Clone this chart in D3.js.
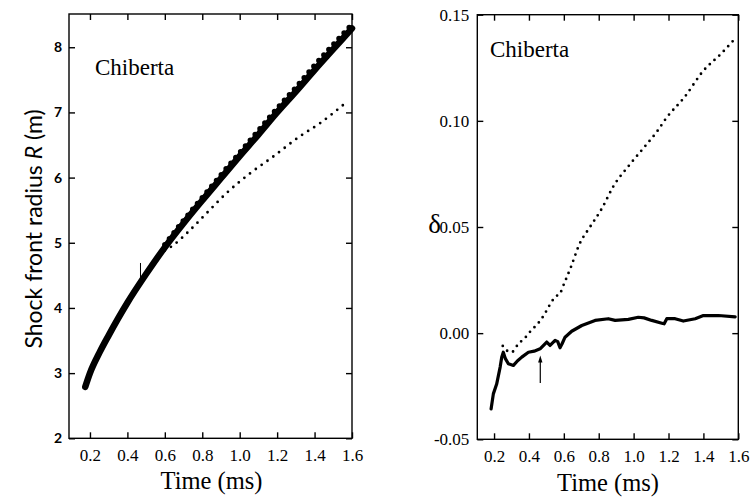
<!DOCTYPE html>
<html>
<head>
<meta charset="utf-8">
<script src="https://cdn.jsdelivr.net/npm/d3@7/dist/d3.min.js"></script>
<style>
  html, body { margin: 0; padding: 0; background: #fff; }
  svg { display: block; }
</style>
</head>
<body>
<svg id="chart" width="750" height="499"></svg>
<script>
// ---------------- DATA ----------------
const xTicks = [0.2, 0.4, 0.6, 0.8, 1.0, 1.2, 1.4, 1.6];
const xTickLabels = ["0.2", "0.4", "0.6", "0.8", "1.0", "1.2", "1.4", "1.6"];
const leftYTicks = [2, 3, 4, 5, 6, 7, 8];
const rightYTicks = [-0.05, 0.00, 0.05, 0.10, 0.15];
const rightYTickLabels = ["-0.05", "0.00", "0.05", "0.10", "0.15"];

// Left panel: shock front radius R (m) vs time (ms)
const radiusMeasuredT = [0.175, 0.2, 0.25, 0.3, 0.4, 0.5, 0.6, 0.7, 0.8, 0.9, 1.0, 1.1, 1.2, 1.3, 1.4, 1.5, 1.6];
const radiusMeasuredR = [2.79, 3.0, 3.31, 3.58, 4.08, 4.52, 4.93, 5.3, 5.65, 5.99, 6.33, 6.66, 7.0, 7.32, 7.65, 7.97, 8.29];
const radiusDotsT = [0.6, 0.7, 0.8, 0.9, 1.0, 1.1, 1.2, 1.3, 1.4, 1.5, 1.6];
const radiusDotsR = [4.97, 5.34, 5.69, 6.04, 6.38, 6.72, 7.06, 7.38, 7.72, 8.04, 8.35];
const radiusModelT = [0.6, 0.644, 0.733, 0.822, 0.929, 1.053, 1.178, 1.32, 1.427, 1.551];
const radiusModelR = [4.88, 4.96, 5.19, 5.45, 5.76, 6.06, 6.32, 6.63, 6.83, 7.11];

// Right panel: delta vs time (ms)
const deltaSolidT = [0.183, 0.196, 0.215, 0.235, 0.244, 0.253, 0.265, 0.282, 0.311, 0.335, 0.359, 0.397, 0.43, 0.464, 0.502, 0.521, 0.55, 0.565, 0.578, 0.59, 0.607, 0.645, 0.703, 0.779, 0.855, 0.894, 0.97, 1.027, 1.06, 1.104, 1.162, 1.175, 1.19, 1.238, 1.285, 1.353, 1.40, 1.486, 1.582];
const deltaSolidV = [-0.0357, -0.0286, -0.024, -0.016, -0.0113, -0.009, -0.012, -0.0144, -0.0152, -0.013, -0.0113, -0.009, -0.0085, -0.0074, -0.0042, -0.0058, -0.0034, -0.004, -0.0069, -0.005, -0.0019, 0.0009, 0.0036, 0.006, 0.0068, 0.006, 0.0065, 0.0075, 0.0072, 0.006, 0.0047, 0.0044, 0.0068, 0.0068, 0.0057, 0.0068, 0.0083, 0.0083, 0.0077];
const deltaDottedT = [0.25, 0.27, 0.3, 0.34, 0.38, 0.41, 0.45, 0.49, 0.51, 0.55, 0.58, 0.6, 0.64, 0.69, 0.75, 0.82, 0.88, 0.98, 1.06, 1.13, 1.19, 1.29, 1.4, 1.5, 1.58];
const deltaDottedV = [-0.006, -0.008, -0.009, -0.005, -0.002, 0.001, 0.0044, 0.009, 0.012, 0.017, 0.019, 0.023, 0.031, 0.042, 0.050, 0.059, 0.0686, 0.0796, 0.0875, 0.0945, 0.1016, 0.111, 0.1236, 0.1315, 0.1386];

// Annotations (markers at t ~ 0.47 ms)
const leftMarker = { t: 0.47, from: 4.43, to: 4.69 };
const rightMarker = { t: 0.465, from: -0.0235, to: -0.0105 };

// ---------------- DRAWING ----------------
const svg = d3.select("#chart");
const serif = '"Liberation Serif", "DejaVu Serif", serif';
const sans = 'Lato, "Open Sans", sans-serif';

function zip(a, b) { return a.map((v, i) => [v, b[i]]); }

function panel(opt) {
  const g = svg.append("g");
  const x = d3.scaleLinear().domain(opt.xDomain).range([opt.x0, opt.x1]);
  const y = d3.scaleLinear().domain(opt.yDomain).range([opt.y1, opt.y0]);

  g.append("rect").attr("x", opt.x0).attr("y", opt.y0)
    .attr("width", opt.x1 - opt.x0).attr("height", opt.y1 - opt.y0)
    .attr("fill", "none").attr("stroke", "#000").attr("stroke-width", 1.4);

  const tk = 6;
  const bx = g.append("g").attr("transform", `translate(0,${opt.y1})`)
    .call(d3.axisBottom(x).tickValues(xTicks).tickSize(-tk).tickPadding(tk + 5)
      .tickFormat((d, i) => xTickLabels[i]));
  const tx = g.append("g").attr("transform", `translate(0,${opt.y0})`)
    .call(d3.axisTop(x).tickValues(xTicks).tickSize(-tk).tickFormat(""));
  const ly = g.append("g").attr("transform", `translate(${opt.x0},0)`)
    .call(d3.axisLeft(y).tickValues(opt.yTicks).tickSize(-tk).tickPadding(opt.yPad + tk)
      .tickFormat((d, i) => opt.yLabels[i]));
  const ry = g.append("g").attr("transform", `translate(${opt.x1},0)`)
    .call(d3.axisRight(y).tickValues(opt.yTicks).tickSize(-tk).tickFormat(""));

  [bx, tx, ly, ry].forEach(a => {
    a.select(".domain").remove();
    a.selectAll(".tick line").attr("stroke", "#000").attr("stroke-width", 1.4);
  });
  bx.selectAll(".tick text").attr("font-family", serif).attr("font-size", 17).attr("fill", "#000");
  ly.selectAll(".tick text").attr("font-family", opt.yFont).attr("font-size", opt.yFontSize)
    .attr("font-weight", opt.yWeight).attr("fill", "#000");
  return { g, x, y };
}

// ----- Left panel -----
const P1 = panel({
  x0: 69, x1: 352, y0: 14, y1: 438.3,
  xDomain: [0.088, 1.6], yDomain: [2, 8.51],
  yTicks: leftYTicks, yLabels: leftYTicks.map(String),
  yPad: 1, yFont: sans, yFontSize: 14, yWeight: 700
});
const line1 = d3.line().x(d => P1.x(d[0])).y(d => P1.y(d[1])).curve(d3.curveMonotoneX);

P1.g.append("path").datum(zip(radiusModelT, radiusModelR)).attr("d", line1)
  .attr("fill", "none").attr("stroke", "#000").attr("stroke-width", 2.8)
  .attr("stroke-linecap", "round").attr("stroke-dasharray", "0 7.2");
P1.g.append("path").datum(zip(radiusDotsT, radiusDotsR)).attr("d", line1)
  .attr("fill", "none").attr("stroke", "#000").attr("stroke-width", 5.5)
  .attr("stroke-linecap", "round").attr("stroke-dasharray", "0 7.5");
P1.g.append("path").datum(zip(radiusMeasuredT, radiusMeasuredR)).attr("d", line1)
  .attr("fill", "none").attr("stroke", "#000").attr("stroke-width", 6.5)
  .attr("stroke-linecap", "round").attr("stroke-linejoin", "round");
P1.g.append("line")
  .attr("x1", P1.x(leftMarker.t)).attr("x2", P1.x(leftMarker.t))
  .attr("y1", P1.y(leftMarker.from)).attr("y2", P1.y(leftMarker.to))
  .attr("stroke", "#000").attr("stroke-width", 1);

P1.g.append("text").attr("x", 95).attr("y", 75).attr("font-family", serif)
  .attr("font-size", 23).text("Chiberta");
P1.g.append("text").attr("x", 211.5).attr("y", 489).attr("text-anchor", "middle")
  .attr("font-family", serif).attr("font-size", 24.5).text("Time (ms)");
const yl = P1.g.append("text").attr("transform", "translate(42,229) rotate(-90)")
  .attr("text-anchor", "middle").attr("font-family", sans).attr("font-size", 23);
yl.append("tspan").text("Shock front radius ");
yl.append("tspan").attr("font-style", "italic").text("R");
yl.append("tspan").text(" (m)");

// ----- Right panel -----
const P2 = panel({
  x0: 477.3, x1: 738.3, y0: 14.7, y1: 439.3,
  xDomain: [0.104, 1.6], yDomain: [-0.05, 0.15],
  yTicks: rightYTicks, yLabels: rightYTickLabels,
  yPad: 2, yFont: serif, yFontSize: 17, yWeight: 400
});
const line2dot = d3.line().x(d => P2.x(d[0])).y(d => P2.y(d[1])).curve(d3.curveMonotoneX);
const line2 = d3.line().x(d => P2.x(d[0])).y(d => P2.y(d[1])).curve(d3.curveLinear);

P2.g.append("path").datum(zip(deltaDottedT, deltaDottedV)).attr("d", line2dot)
  .attr("fill", "none").attr("stroke", "#000").attr("stroke-width", 2.8)
  .attr("stroke-linecap", "round").attr("stroke-dasharray", "0 6.5");
P2.g.append("path").datum(zip(deltaSolidT, deltaSolidV)).attr("d", line2)
  .attr("fill", "none").attr("stroke", "#000").attr("stroke-width", 3.2)
  .attr("stroke-linecap", "round").attr("stroke-linejoin", "round");

// arrow
const ax = P2.x(rightMarker.t), ayTop = P2.y(rightMarker.to), ayBot = P2.y(rightMarker.from);
P2.g.append("line").attr("x1", ax).attr("x2", ax).attr("y1", ayBot).attr("y2", ayTop + 4)
  .attr("stroke", "#000").attr("stroke-width", 1.2);
P2.g.append("path")
  .attr("d", `M${ax},${ayTop} L${ax - 2.2},${ayTop + 7} L${ax + 2.2},${ayTop + 7} Z`)
  .attr("fill", "#000");

P2.g.append("text").attr("x", 490).attr("y", 57).attr("font-family", serif)
  .attr("font-size", 23).text("Chiberta");
P2.g.append("text").attr("x", 608).attr("y", 491).attr("text-anchor", "middle")
  .attr("font-family", serif).attr("font-size", 24.5).text("Time (ms)");
P2.g.append("text").attr("x", 441).attr("y", 233).attr("text-anchor", "end")
  .attr("font-family", serif).attr("font-size", 27).text("δ");
</script>
</body>
</html>
